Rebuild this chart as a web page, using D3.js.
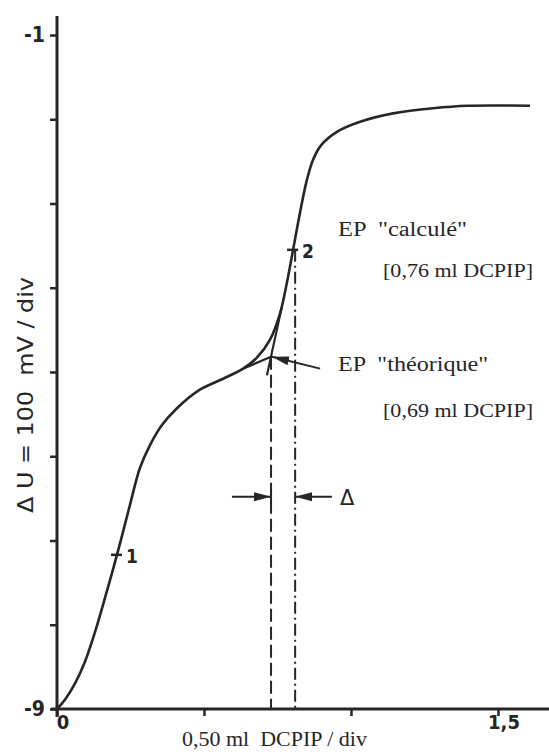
<!DOCTYPE html>
<html>
<head>
<meta charset="utf-8">
<script src="https://cdn.jsdelivr.net/npm/d3@7"></script>
<style>
    body { margin: 0; background: #fff; }
    svg { display: block; }
</style>
</head>
<body>
<div id="viz-container"></div>
<script>
// titration curve (ml DCPIP, potential in div)
let volume = [0, 0.027, 0.061, 0.095, 0.129, 0.156, 0.204, 0.248, 0.282, 0.316, 0.357, 0.408,
    0.486, 0.565, 0.633, 0.680, 0.724, 0.759, 0.782, 0.803, 0.827, 0.850, 0.871, 0.898,
    0.952, 1.031, 1.143, 1.279, 1.395, 1.609];
let potential = [-9, -8.89, -8.70, -8.44, -8.09, -7.77, -7.17, -6.58, -6.14, -5.87, -5.63, -5.43,
    -5.21, -5.08, -4.96, -4.83, -4.62, -4.30, -3.94, -3.55, -3.10, -2.72, -2.48, -2.31,
    -2.15, -2.03, -1.93, -1.87, -1.84, -1.84];

let xTicks = [0, 0.5, 1.0, 1.5];
let xTickLabels = ['0', '', '', '1,5'];
let yTicks = [-9, -8, -7, -6, -5, -4, -3, -2, -1];
let yTickLabels = ['-9', '', '', '', '', '', '', '', '-1'];

// tangents and end points
let tangentFlat = [[0.633, -4.96], [0.728, -4.82]];
let tangentSteep = [[0.714, -5.04], [0.764, -4.24]];
let epTheoX = 0.728;   // dashed line
let epCalcX = 0.810;   // dash-dot line
let markPoints = [[0.204, -7.17, '1'], [0.803, -3.55, '2']];

let w = 549, h = 755;
let viz = d3.select('#viz-container')
    .append('svg')
    .attr('width', w)
    .attr('height', h);

let x = d3.scaleLinear().domain([0, 1.5]).range([57, 498]);
let y = d3.scaleLinear().domain([-9, -1]).range([709, 35]);

let ink = '#262626';
let serif = '"Liberation Serif", "DejaVu Serif", serif';
let narrow = '"Liberation Sans Narrow", "DejaVu Sans Condensed", "Liberation Sans", sans-serif';

// arrow head
viz.append('defs').append('marker')
    .attr('id', 'head')
    .attr('markerUnits', 'userSpaceOnUse')
    .attr('viewBox', '0 0 17 10')
    .attr('refX', 17).attr('refY', 5)
    .attr('markerWidth', 17).attr('markerHeight', 10)
    .attr('orient', 'auto')
    .append('path')
    .attr('d', 'M0,0.5 L17,5 L0,9.5 Z')
    .attr('fill', ink);

// axes
let xAxis = d3.axisBottom(x).tickValues(xTicks).tickSize(7).tickFormat('');
let gx = viz.append('g').attr('transform', `translate(0,${y(-9)})`).call(xAxis);
gx.select('.domain').attr('d', `M${x(-0.02)},0H${w}`);
let yAxis = d3.axisLeft(y).tickValues(yTicks).tickSize(7).tickFormat('');
let gy = viz.append('g').attr('transform', `translate(${x(0)},0)`).call(yAxis);
gy.select('.domain').attr('d', `M0,16V${y(-9) + 8}`);
viz.selectAll('.domain').attr('stroke', ink).attr('stroke-width', 3);
viz.selectAll('.tick line').attr('stroke', ink).attr('stroke-width', 2.5);

viz.selectAll('.xlab').data(xTicks).enter()
    .append('text')
    .attr('x', (d) => x(d) + 6)
    .attr('y', 729)
    .attr('text-anchor', 'middle')
    .attr('font-family', narrow)
    .attr('font-weight', 'bold')
    .attr('font-size', 20)
    .attr('fill', ink)
    .text((d, i) => xTickLabels[i]);

viz.selectAll('.ylab').data(yTicks).enter()
    .append('text')
    .attr('x', 45)
    .attr('y', (d) => y(d) + 7)
    .attr('text-anchor', 'end')
    .attr('font-family', narrow)
    .attr('font-weight', 'bold')
    .attr('font-size', 21)
    .attr('fill', ink)
    .text((d, i) => yTickLabels[i]);

viz.append('text')
    .attr('x', 182).attr('y', 746)
    .attr('font-family', serif)
    .attr('font-size', 20)
    .attr('fill', ink)
    .attr('textLength', 185)
    .attr('lengthAdjust', 'spacingAndGlyphs')
    .style('white-space', 'pre')
    .text('0,50 ml  DCPIP / div');

viz.append('text')
    .attr('transform', 'translate(33,513) rotate(-90)')
    .attr('font-family', narrow)
    .attr('font-size', 21)
    .attr('fill', ink)
    .attr('textLength', 236)
    .attr('lengthAdjust', 'spacingAndGlyphs')
    .style('white-space', 'pre')
    .text('Δ U = 100  mV / div');

// vertical guide lines
viz.append('line')
    .attr('x1', x(epTheoX)).attr('x2', x(epTheoX))
    .attr('y1', y(-4.82)).attr('y2', y(-9))
    .attr('stroke', ink).attr('stroke-width', 2)
    .attr('stroke-dasharray', '13,5');
viz.append('line')
    .attr('x1', x(epCalcX)).attr('x2', x(epCalcX))
    .attr('y1', y(-3.55)).attr('y2', y(-9))
    .attr('stroke', ink).attr('stroke-width', 2)
    .attr('stroke-dasharray', '12,4,2,4');

// tangents
let line = d3.line().x((d) => x(d[0])).y((d) => y(d[1]));
[tangentFlat, tangentSteep].forEach((t) => {
    viz.append('path')
        .attr('d', line(t))
        .attr('fill', 'none')
        .attr('stroke', ink)
        .attr('stroke-width', 2.2);
});

// the curve
let curve = d3.line()
    .x((d, i) => x(volume[i]))
    .y((d, i) => y(potential[i]))
    .curve(d3.curveCatmullRom.alpha(0.5));
viz.append('path')
    .attr('d', curve(volume))
    .attr('fill', 'none')
    .attr('stroke', ink)
    .attr('stroke-width', 2.6);

// numbered marks on the curve
markPoints.forEach((m) => {
    viz.append('line')
        .attr('x1', x(m[0]) - 6).attr('x2', x(m[0]) + 5)
        .attr('y1', y(m[1])).attr('y2', y(m[1]))
        .attr('stroke', ink).attr('stroke-width', 2.5);
    viz.append('text')
        .attr('x', x(m[0]) + 9)
        .attr('y', y(m[1]) + 8)
        .attr('font-family', narrow)
        .attr('font-weight', 'bold')
        .attr('font-size', 19)
        .attr('fill', ink)
        .text(m[2]);
});

// annotations: text, x, y, size, width
let notes = [
    ['EP  "calculé"', 0.956, -3.38, 20, 129],
    ['[0,76 ml DCPIP]', 1.109, -3.87, 18, 150],
    ['EP  "théorique"', 0.956, -4.99, 20, 150],
    ['[0,69 ml DCPIP]', 1.109, -5.54, 18, 150]
];
viz.selectAll('.note').data(notes).enter()
    .append('text')
    .attr('x', (d) => x(d[1]))
    .attr('y', (d) => y(d[2]))
    .attr('font-family', serif)
    .attr('font-size', (d) => d[3])
    .attr('fill', ink)
    .attr('textLength', (d) => d[4])
    .attr('lengthAdjust', 'spacingAndGlyphs')
    .style('white-space', 'pre')
    .text((d) => d[0]);

// arrow to the tangent intersection
viz.append('line')
    .attr('x1', x(0.895)).attr('y1', y(-4.96))
    .attr('x2', x(epTheoX) + 1).attr('y2', y(-4.82))
    .attr('stroke', ink).attr('stroke-width', 2)
    .attr('marker-end', 'url(#head)');

// delta arrows
let deltaY = -6.48;
viz.append('line')
    .attr('x1', x(0.595)).attr('y1', y(deltaY))
    .attr('x2', x(epTheoX)).attr('y2', y(deltaY))
    .attr('stroke', ink).attr('stroke-width', 2)
    .attr('marker-end', 'url(#head)');
viz.append('line')
    .attr('x1', x(epTheoX)).attr('x2', x(epTheoX))
    .attr('y1', y(deltaY) - 10).attr('y2', y(deltaY) + 10)
    .attr('stroke', ink).attr('stroke-width', 2);
viz.append('line')
    .attr('x1', x(0.935)).attr('y1', y(deltaY))
    .attr('x2', x(epCalcX)).attr('y2', y(deltaY))
    .attr('stroke', ink).attr('stroke-width', 2)
    .attr('marker-end', 'url(#head)');
viz.append('text')
    .attr('x', x(0.963)).attr('y', y(deltaY) + 8)
    .attr('font-family', '"DejaVu Sans", sans-serif')
    .attr('font-size', 21)
    .attr('fill', ink)
    .text('Δ');
</script>
</body>
</html>
